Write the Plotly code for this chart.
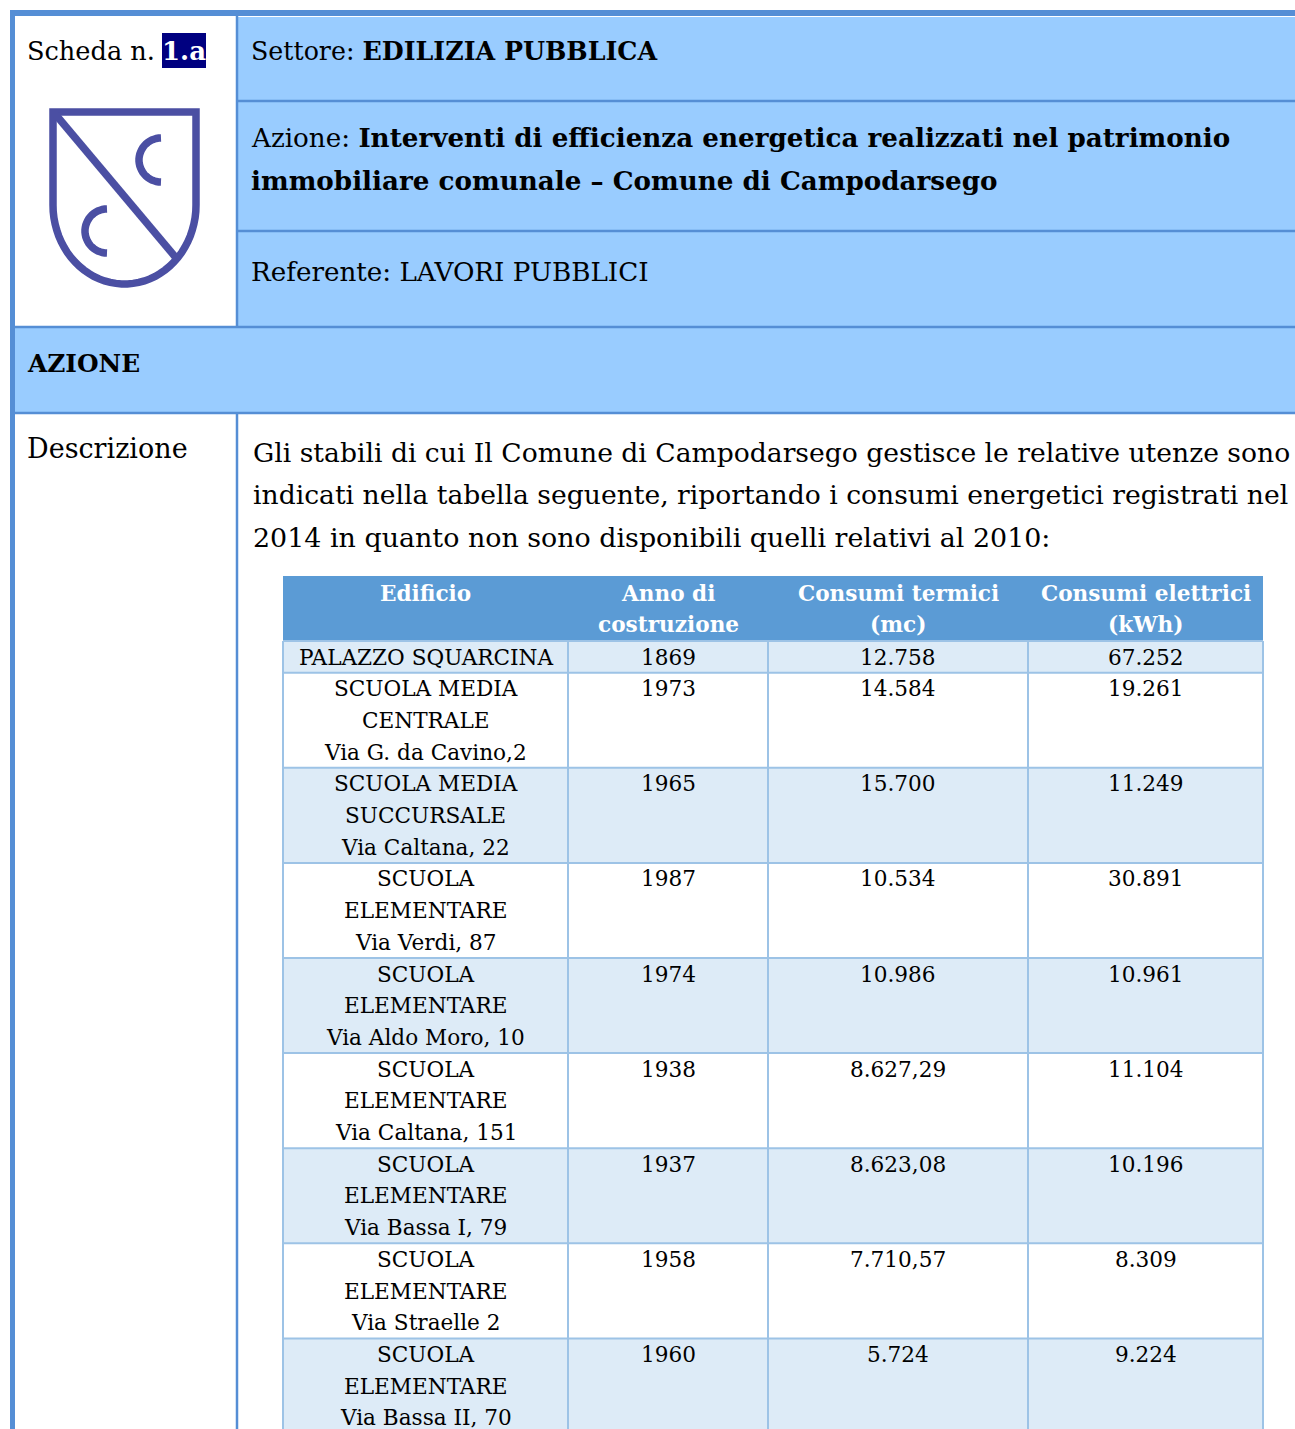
import numpy as np
import plotly.graph_objects as go

W, H = 1295, 1429
FONT = "DejaVu Serif"

# ---------------- content ----------------
scheda_label = "Scheda n."
scheda_num = "1.a"
settore_label = "Settore:"
settore = "EDILIZIA PUBBLICA"
azione_label = "Azione:"
azione_lines = ["Interventi di efficienza energetica realizzati nel patrimonio",
                "immobiliare comunale – Comune di Campodarsego"]
referente_label = "Referente:"
referente = "LAVORI PUBBLICI"
section_title = "AZIONE"
descr_label = "Descrizione"
descr_lines = ["Gli stabili di cui Il Comune di Campodarsego gestisce le relative utenze sono",
               "indicati nella tabella seguente, riportando i consumi energetici registrati nel",
               "2014 in quanto non sono disponibili quelli relativi al 2010:"]

col_headers = [["Edificio"], ["Anno di", "costruzione"],
               ["Consumi termici", "(mc)"], ["Consumi elettrici", "(kWh)"]]
edifici = [["PALAZZO SQUARCINA"],
           ["SCUOLA MEDIA", "CENTRALE", "Via G. da Cavino,2"],
           ["SCUOLA MEDIA", "SUCCURSALE", "Via Caltana, 22"],
           ["SCUOLA", "ELEMENTARE", "Via Verdi, 87"],
           ["SCUOLA", "ELEMENTARE", "Via Aldo Moro, 10"],
           ["SCUOLA", "ELEMENTARE", "Via Caltana, 151"],
           ["SCUOLA", "ELEMENTARE", "Via Bassa I, 79"],
           ["SCUOLA", "ELEMENTARE", "Via Straelle 2"],
           ["SCUOLA", "ELEMENTARE", "Via Bassa II, 70"]]
anni = ["1869", "1973", "1965", "1987", "1974", "1938", "1937", "1958", "1960"]
termici = ["12.758", "14.584", "15.700", "10.534", "10.986", "8.627,29", "8.623,08", "7.710,57", "5.724"]
elettrici = ["67.252", "19.261", "11.249", "30.891", "10.961", "11.104", "10.196", "8.309", "9.224"]

# ---------------- styles / layout constants ----------------
BORDER = "#558ED5"
CELL = "#99CCFF"
THEAD = "#5B9BD5"
BAND = "#DDEBF7"
GRID = "#9DC3E6"
LOGO = "#4B4FA3"
NAVY = "#000080"
BODY = 27
TBL = 21.6

shapes = []
ann = []


def rect(x0, y0, x1, y1, fill):
    shapes.append(dict(type="rect", x0=x0, y0=y0, x1=x1, y1=y1, fillcolor=fill,
                       line=dict(width=0), layer="below"))


def hline(x0, x1, y, color, w):
    shapes.append(dict(type="line", x0=x0, x1=x1, y0=y, y1=y, line=dict(color=color, width=w)))


def vline(x, y0, y1, color, w):
    shapes.append(dict(type="line", x0=x, x1=x, y0=y0, y1=y1, line=dict(color=color, width=w)))


def text(x, y, s, size=BODY, color="black", anchor="left", bold=False):
    if bold:
        s = "<b>" + s + "</b>"
    ann.append(dict(x=x, y=y, text=s, showarrow=False, xanchor=anchor, yanchor="middle",
                    font=dict(family=FONT, size=size, color=color)))


# ---------------- page frame ----------------
LX, DIV, RX = 15, 237, W + 5
rect(10, 10, RX, 16, BORDER)         # top border
rect(10, 10, 15, H + 5, BORDER)      # left border
rect(DIV, 17, RX, 327, CELL)         # right header cells
rect(LX, 327, RX, 413, CELL)         # AZIONE band
vline(DIV, 16, 327, BORDER, 2.5)
vline(DIV, 413, H + 5, BORDER, 2.5)
for y in (101, 231):
    hline(DIV, RX, y, BORDER, 2.5)
for y in (327, 413):
    hline(LX, RX, y, BORDER, 2.5)

# ---------------- header texts ----------------
text(25, 51, scheda_label, size=25.6)
shapes.append(dict(type="rect", x0=162, x1=206, y0=33, y1=68, fillcolor=NAVY, line=dict(width=0)))
text(184, 51, scheda_num, size=26, color="white", anchor="center", bold=True)
text(249, 51, settore_label + " <b>" + settore + "</b>", size=25.3)
text(249, 137, azione_label + " <b>" + azione_lines[0] + "</b>", size=26.2)
text(249, 180, azione_lines[1], size=26.2, bold=True)
text(249, 272, referente_label + " " + referente, size=26.2)
text(25, 363, section_title, size=24.8, bold=True)
text(25, 448, descr_label)
descr_sizes = [26.6, 26.6, 26.9]
for i, ln in enumerate(descr_lines):
    text(251, 452 + i * 42.5, ln, size=descr_sizes[i])

# ---------------- logo (shield) ----------------
t = np.linspace(0, np.pi, 40)
cx, cy, rx_, ry_ = 124.5, 205, 71.5, 79
pts = [(53, 112), (196, 112)] + [(cx + rx_ * np.cos(a), cy + ry_ * np.sin(a)) for a in t]
path = "M " + " L ".join(f"{x:.1f},{y:.1f}" for x, y in pts) + " Z"
shapes.append(dict(type="path", path=path, line=dict(color=LOGO, width=7.5)))
shapes.append(dict(type="line", x0=56, y0=115, x1=177, y1=259, line=dict(color=LOGO, width=7.5)))
for (ccx, ccy, r) in ((161, 160, 22), (107, 231, 22)):
    a = np.linspace(np.pi / 2, 3 * np.pi / 2, 30)
    p = "M " + " L ".join(f"{ccx + r*np.cos(v):.1f},{ccy + r*np.sin(v):.1f}" for v in a)
    shapes.append(dict(type="path", path=p, line=dict(color=LOGO, width=7.5)))

# ---------------- table ----------------
cols = [283, 568, 768, 1028, 1263]
centers = [(cols[i] + cols[i + 1]) / 2 for i in range(4)]
HT, HB = 576, 641
LH = 31.7
rect(cols[0], HT, cols[-1], HB, THEAD)
for c, hdr in enumerate(col_headers):
    for k, ln in enumerate(hdr):
        text(centers[c], HT + 17 + k * LH, ln, size=TBL, color="white", anchor="center", bold=True)

rows = list(zip(edifici, anni, termici, elettrici))
top = HB
row_tops = []
for r, (ed, an, te, el) in enumerate(rows):
    n = max(len(ed), 1)
    hgt = n * LH
    if r % 2 == 0:
        rect(cols[0], top, cols[-1], top + hgt, BAND)
    row_tops.append(top)
    cells = [ed, [an], [te], [el]]
    for c, lines in enumerate(cells):
        for k, ln in enumerate(lines):
            text(centers[c], top + 16 + k * LH, ln, size=TBL, anchor="center")
    top += hgt
row_tops.append(top)
for y in row_tops:
    hline(cols[0], cols[-1], y, GRID, 2)
for x in cols:
    vline(x, HB, max(top, H + 5), GRID, 2)

fig = go.Figure()
fig.update_layout(
    width=W, height=H, margin=dict(l=0, r=0, t=0, b=0),
    paper_bgcolor="white", plot_bgcolor="white",
    xaxis=dict(range=[0, W], visible=False, fixedrange=True),
    yaxis=dict(range=[H, 0], visible=False, fixedrange=True),
    shapes=shapes, annotations=ann, showlegend=False,
)
fig.write_html("out.html", config={"displayModeBar": False},
               post_script="document.body.style.margin='0px';")
